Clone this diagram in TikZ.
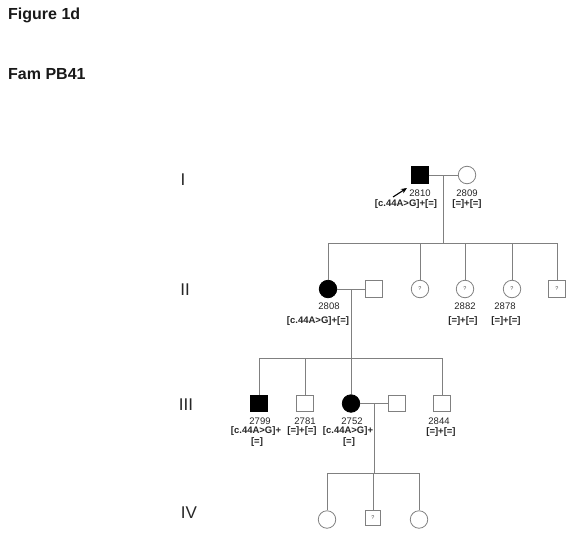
\documentclass[tikz,border=0pt]{standalone}
\usepackage{fontspec}
\setmainfont{Liberation Sans}
\usetikzlibrary{arrows.meta}
\begin{document}
\begin{tikzpicture}[x=1pt,y=-1pt,
  lin/.style={draw=black!50,line width=0.8pt},
  msq/.style={rectangle,draw=black!50,line width=0.8pt,minimum size=16.5pt,inner sep=0pt,fill=white},
  fcirc/.style={circle,draw=black!50,line width=0.8pt,minimum size=17.5pt,inner sep=0pt,fill=white},
  aff/.style={fill=black,draw=black},
  qm/.style={font=\fontsize{5.5}{6}\selectfont,text=black!70},
  num/.style={font=\fontsize{9.5}{10}\selectfont,text=black!85,inner sep=0pt},
  geno/.style={font=\fontsize{9.5}{10}\selectfont\bfseries,text=black!85,inner sep=0pt},
  gen/.style={font=\fontsize{17}{18}\selectfont,text=black!85,inner sep=0pt},
  ttl/.style={font=\fontsize{16}{18}\selectfont\bfseries,text=black!90,inner sep=0pt,anchor=base west}
]
\useasboundingbox (0,0) rectangle (577,532);
% titles
\node[ttl] (t1) at (8,20) {Figure 1d};
\node[ttl] (t2) at (8,80) {Fam PB41};
% generation labels
\node[gen] (gI) at (183,180) {I};
\node[gen] (gII) at (185,290) {II};
\node[gen] (gIII) at (186,405) {III};
\node[gen] (gIV) at (189,513) {IV};
% Generation I
\node[msq,aff] (p2810) at (420,175) {};
\node[fcirc] (p2809) at (467,175) {};
\coordinate (m1) at (443,175);
\coordinate (s1c) at (443,243);
\coordinate (s1l) at (328,243);
\coordinate (s1r) at (557,243);
\draw[lin] (p2810) -- (p2809);
\draw[lin] (m1) -- (s1c);
\draw[lin] (s1l) -- (s1r);
\coordinate (ar0) at (393,197);
\coordinate (ar1) at (407,188);
\draw[black,line width=1.1pt,-{Stealth[length=6pt,width=5pt]}] (ar0) -- (ar1);
\node[num] (l2810) at (420,193) {2810};
\node[geno] (g2810) at (406,204) {[c.44A>G]+[=]};
\node[num] (l2809) at (467,193) {2809};
\node[geno] (g2809) at (467,204) {[=]+[=]};
% Generation II
\node[fcirc,aff] (p2808) at (328,289) {};
\node[msq] (sp2808) at (374,289) {};
\node[fcirc] (q1) at (420,289) {};
\node[qm] at (q1) {?};
\node[fcirc] (p2882) at (465,289) {};
\node[qm] at (p2882) {?};
\node[fcirc] (p2878) at (512,289) {};
\node[qm] at (p2878) {?};
\node[msq] (q2) at (557,289) {};
\node[qm] at (q2) {?};
\foreach \n in {p2808,q1,p2882,p2878,q2} \draw[lin] (\n |- s1l) -- (\n);
\draw[lin] (p2808) -- (sp2808);
\node[num] (l2808) at (329,306) {2808};
\node[geno] (g2808) at (318,321) {[c.44A>G]+[=]};
\node[num] (l2882) at (465,306) {2882};
\node[geno] (g2882) at (463,321) {[=]+[=]};
\node[num] (l2878) at (505,306) {2878};
\node[geno] (g2878) at (506,321) {[=]+[=]};
\coordinate (m2) at (351,289);
\coordinate (s2c) at (351,358);
\coordinate (s2l) at (259,358);
\coordinate (s2r) at (443,358);
\draw[lin] (m2) -- (s2c);
\draw[lin] (s2l) -- (s2r);
% Generation III
\node[msq,aff] (p2799) at (259,403.5) {};
\node[msq] (p2781) at (305,403.5) {};
\node[fcirc,aff] (p2752) at (351,403.5) {};
\node[msq] (sp2752) at (397,403.5) {};
\node[msq] (p2844) at (442,403.5) {};
\foreach \n in {p2799,p2781,p2752,p2844} \draw[lin] (\n |- s2l) -- (\n);
\draw[lin] (p2752) -- (sp2752);
\node[num] (l2799) at (260,421) {2799};
\node[geno] (g2799a) at (256,431) {[c.44A>G]+};
\node[geno] (g2799b) at (257,442) {[=]};
\node[num] (l2781) at (305,421) {2781};
\node[geno] (g2781) at (302,431) {[=]+[=]};
\node[num] (l2752) at (352,421) {2752};
\node[geno] (g2752a) at (348,431) {[c.44A>G]+};
\node[geno] (g2752b) at (349,442) {[=]};
\node[num] (l2844) at (439,421) {2844};
\node[geno] (g2844) at (441,432) {[=]+[=]};
\coordinate (m3) at (374,403.5);
\coordinate (s3c) at (374,473);
\coordinate (s3l) at (327,473);
\coordinate (s3r) at (419,473);
\draw[lin] (m3) -- (s3c);
\draw[lin] (s3l) -- (s3r);
% Generation IV
\node[fcirc] (c1) at (327,519.5) {};
\node[msq,minimum size=15.5pt] (c2) at (373,518) {};
\node[qm] at (c2) {?};
\node[fcirc] (c3) at (419,519.5) {};
\foreach \n in {c1,c2,c3} \draw[lin] (\n |- s3l) -- (\n);
\end{tikzpicture}
\end{document}
